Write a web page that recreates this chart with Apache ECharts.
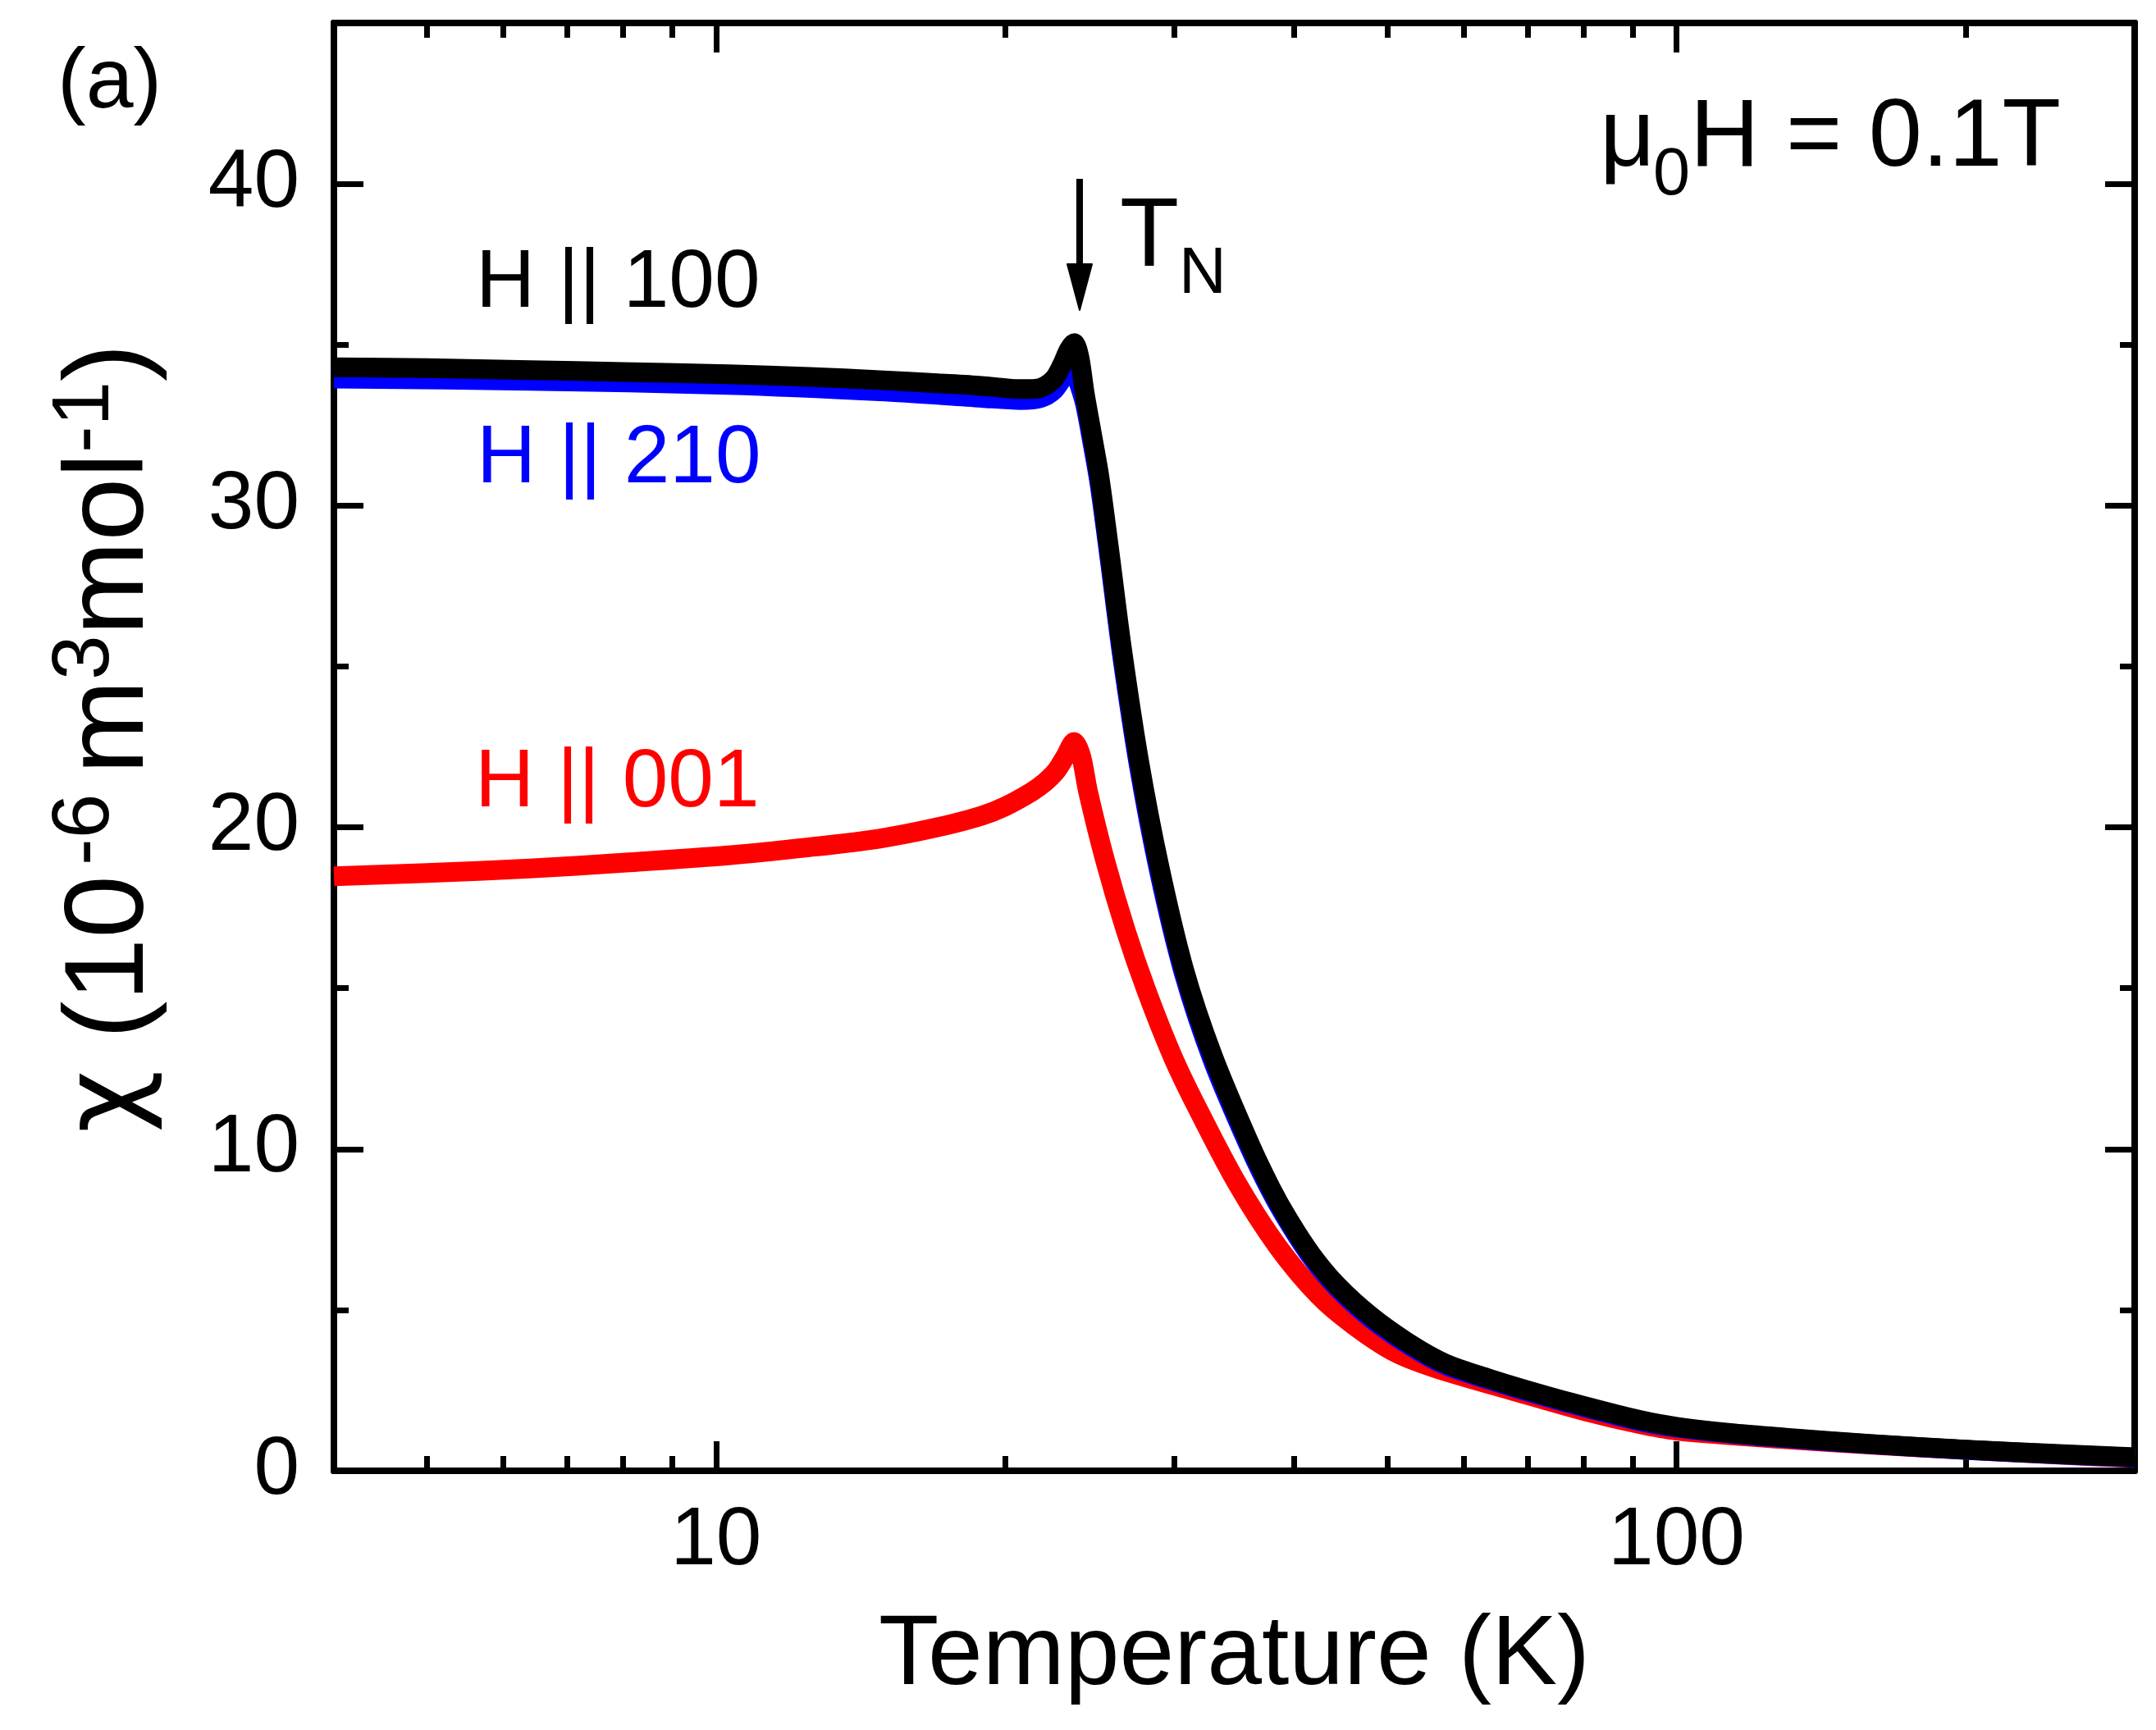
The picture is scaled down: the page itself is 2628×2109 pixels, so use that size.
<!DOCTYPE html>
<html>
<head>
<meta charset="utf-8">
<script src="https://cdn.jsdelivr.net/npm/echarts@6/dist/echarts.min.js"></script>
<style>html,body{margin:0;padding:0;background:#fff}#c{width:2628px;height:2109px}</style>
</head>
<body>
<div id="c"></div>
<script>
// ---- data ----
const tBlack = [4.0, 5.0, 6.4, 8.0, 10.3, 12.5, 14.8, 17.0, 18.9, 20.0, 20.75, 21.5, 22.0, 22.5, 22.9, 23.3, 23.6, 23.9, 24.2, 24.6, 25.07, 25.7, 26.45, 27.56, 28.94, 30.7, 32.9, 35.9, 37.8, 39.5, 41.7, 44.3, 48.0, 52.5, 57.5, 63.9, 70.0, 77.7, 91.5, 100, 115, 130, 160, 200, 250, 300];
const chiBlack = [34.30, 34.27, 34.21, 34.15, 34.08, 34.00, 33.90, 33.80, 33.72, 33.65, 33.62, 33.63, 33.72, 33.95, 34.35, 34.85, 35.05, 34.6, 33.5, 32.3, 30.9, 28.5, 25.6, 22.1, 18.8, 15.6, 12.9, 10.2, 8.8, 7.78, 6.71, 5.77, 4.82, 3.99, 3.33, 2.86, 2.50, 2.12, 1.58, 1.37, 1.16, 1.03, 0.83, 0.66, 0.52, 0.42];

const tBlue = [4.0, 6.4, 10.3, 14.8, 18.9, 20.75, 21.8, 22.5, 23.0, 23.5, 23.8, 24.2, 24.6, 25.07, 25.7, 26.45, 27.56, 28.94, 30.7, 32.9, 35.9, 37.8, 39.5, 41.7, 44.3, 48.0, 52.5, 57.5, 63.9, 70.0, 77.7, 91.5, 100, 115, 130, 160, 200, 250, 300];
const chiBlue = [33.95, 33.88, 33.75, 33.55, 33.35, 33.28, 33.35, 33.6, 34.0, 34.3, 33.9, 33.2, 32.1, 30.7, 28.3, 25.4, 21.9, 18.6, 15.45, 12.75, 10.08, 8.7, 7.7, 6.63, 5.7, 4.75, 3.93, 3.28, 2.82, 2.46, 2.08, 1.54, 1.34, 1.14, 1.01, 0.82, 0.65, 0.51, 0.41];

const tRed = [4.0, 5.0, 6.4, 8.0, 10.3, 12.5, 14.8, 17.0, 18.9, 20.0, 21.3, 22.0, 22.6, 23.1, 23.6, 24.0, 24.4, 25.4, 26.7, 28.1, 29.85, 31.6, 34.8, 38.4, 42.4, 46.0, 50.8, 56.0, 68.2, 80.3, 91.5, 100, 130, 160, 200, 250, 300];
const chiRed = [18.48, 18.58, 18.72, 18.90, 19.13, 19.38, 19.65, 20.0, 20.36, 20.65, 21.1, 21.4, 21.75, 22.2, 22.65, 22.2, 21.1, 19.0, 16.8, 14.88, 12.91, 11.36, 8.98, 6.99, 5.45, 4.55, 3.7, 3.2, 2.45, 1.85, 1.45, 1.25, 0.98, 0.81, 0.65, 0.50, 0.40];

const xMajorTicks = [10, 100];
const xMinorTicks = [5, 6, 7, 8, 9, 20, 30, 40, 50, 60, 70, 80, 90, 200];
const yMajorTicks = [0, 10, 20, 30, 40];
const yMinorTicks = [5, 15, 25, 35];

const seriesNames = ['H || 001', 'H || 210', 'H || 100'];
const seriesColors = ['#ff0000', '#0000ff', '#000000'];

// ---- chart ----
const FF = '"Liberation Sans", Arial, sans-serif';
const pairs = (t, c) => t.map((v, i) => [v, c[i]]);
const chart = echarts.init(document.getElementById('c'), null, {renderer: 'canvas', width: 2628, height: 2109});

const lineW = 8;
function xAxisDef(pos, ticks, len, labels) {
  return {
    type: 'log', logBase: 10, min: 4, max: 300, position: pos, gridIndex: 0,
    axisLine: {show: true, onZero: false, lineStyle: {color: '#000', width: lineW}},
    axisTick: {show: true, inside: true, length: len, customValues: ticks, lineStyle: {color: '#000', width: 7}},
    axisLabel: labels ? {show: true, customValues: ticks, color: '#000', fontSize: 100, fontFamily: FF, margin: 36, formatter: v => String(v)} : {show: false},
    splitLine: {show: false}, minorTick: {show: false}, minorSplitLine: {show: false}
  };
}
function yAxisDef(pos, ticks, len, labels) {
  return {
    type: 'value', min: 0, max: 45, interval: 10, position: pos, gridIndex: 0,
    axisLine: {show: true, onZero: false, lineStyle: {color: '#000', width: lineW}},
    axisTick: {show: true, inside: true, length: len, customValues: ticks, lineStyle: {color: '#000', width: 7}},
    axisLabel: labels ? {show: true, customValues: ticks, color: '#000', fontSize: 100, fontFamily: FF, margin: 42} : {show: false},
    splitLine: {show: false}
  };
}

const xAxes = [
  xAxisDef('bottom', xMajorTicks, 36, true),
  xAxisDef('bottom', xMinorTicks, 18, false),
  xAxisDef('top', xMajorTicks, 36, false),
  xAxisDef('top', xMinorTicks, 18, false)
];
xAxes[0].name = 'Temperature (K)';
xAxes[0].nameLocation = 'middle';
xAxes[0].nameGap = 167;
xAxes[0].nameTextStyle = {color: '#000', fontSize: 120, fontFamily: FF};

const yAxes = [
  yAxisDef('left', yMajorTicks, 36, true),
  yAxisDef('left', yMinorTicks, 18, false),
  yAxisDef('right', yMajorTicks, 36, false),
  yAxisDef('right', yMinorTicks, 18, false)
];

const dataSets = [pairs(tRed, chiRed), pairs(tBlue, chiBlue), pairs(tBlack, chiBlack)];
const series = dataSets.map((d, i) => ({
  name: seriesNames[i], type: 'line', xAxisIndex: 0, yAxisIndex: 0,
  data: d, symbol: 'none', smooth: 0.3, clip: true,
  lineStyle: {color: seriesColors[i], width: 24, cap: 'butt', join: 'round'},
  z: 2 + i
}));

function txt(x, y, text, size, color, extra) {
  return Object.assign({
    type: 'text', x: x, y: y, z: 100,
    style: {text: text, font: size + 'px ' + FF, fontSize: size, fontFamily: FF, fill: color,
            align: 'left', textAlign: 'left', verticalAlign: 'middle', textVerticalAlign: 'middle'}
  }, extra || {});
}
const mid = (baseline, size) => baseline - 0.3465 * size;

const graphic = [
  txt(70, mid(138, 104), '(a)', 104, '#000'),
  txt(580, mid(381, 100), seriesNames[2], 100, seriesColors[2]),
  txt(581, mid(595, 100), seriesNames[1], 100, seriesColors[1]),
  txt(579, mid(990, 100), seriesNames[0], 100, seriesColors[0]),
  txt(1950, mid(210, 117), 'μ', 117, '#000'),
  txt(2015, mid(243, 81), '0', 81, '#000'),
  txt(2060, mid(210, 117), 'H = 0.1T', 117, '#000'),
  txt(1365, mid(332, 118), 'T', 118, '#000'),
  txt(1437, mid(363, 80), 'N', 80, '#000'),
  {type: 'line', z: 100, shape: {x1: 1316, y1: 218, x2: 1316, y2: 330}, style: {stroke: '#000', lineWidth: 8}},
  {type: 'polygon', z: 100, shape: {points: [[1301, 322], [1331, 322], [1316, 378]]}, style: {fill: '#000', stroke: '#000', lineWidth: 2, lineJoin: 'round'}},
  {
    type: 'text', x: 136, y: 900, rotation: Math.PI / 2, z: 100,
    style: {
      text: '{c|χ}{m| (10}{s1|-6}{m2|m}{s|3}{m|mol}{s|-1}{m|)}',
      align: 'center', textAlign: 'center', verticalAlign: 'middle', textVerticalAlign: 'middle',
      fill: '#000', font: '138px ' + FF,
      rich: {
        c: {fontSize: 132, fontFamily: '"DejaVu Sans", sans-serif', lineHeight: 160, verticalAlign: 'middle', fill: '#000', color: '#000'},
        m: {fontSize: 138, fontFamily: FF, lineHeight: 160, verticalAlign: 'middle', fill: '#000', color: '#000'},
        m2: {fontSize: 138, fontFamily: FF, lineHeight: 160, verticalAlign: 'middle', fill: '#000', color: '#000', padding: [0, 0, 0, 24]},
        s: {fontSize: 98, fontFamily: FF, lineHeight: 74, verticalAlign: 'top', fill: '#000', color: '#000'},
        s1: {fontSize: 98, fontFamily: FF, lineHeight: 74, verticalAlign: 'top', fill: '#000', color: '#000', padding: [0, 0, 0, 12]}
      }
    }
  }
];

chart.setOption({
  animation: false,
  backgroundColor: '#fff',
  grid: {left: 407, right: 26, top: 28, bottom: 316, containLabel: false, show: false},
  xAxis: xAxes,
  yAxis: yAxes,
  series: series,
  graphic: graphic
});
</script>
</body>
</html>
